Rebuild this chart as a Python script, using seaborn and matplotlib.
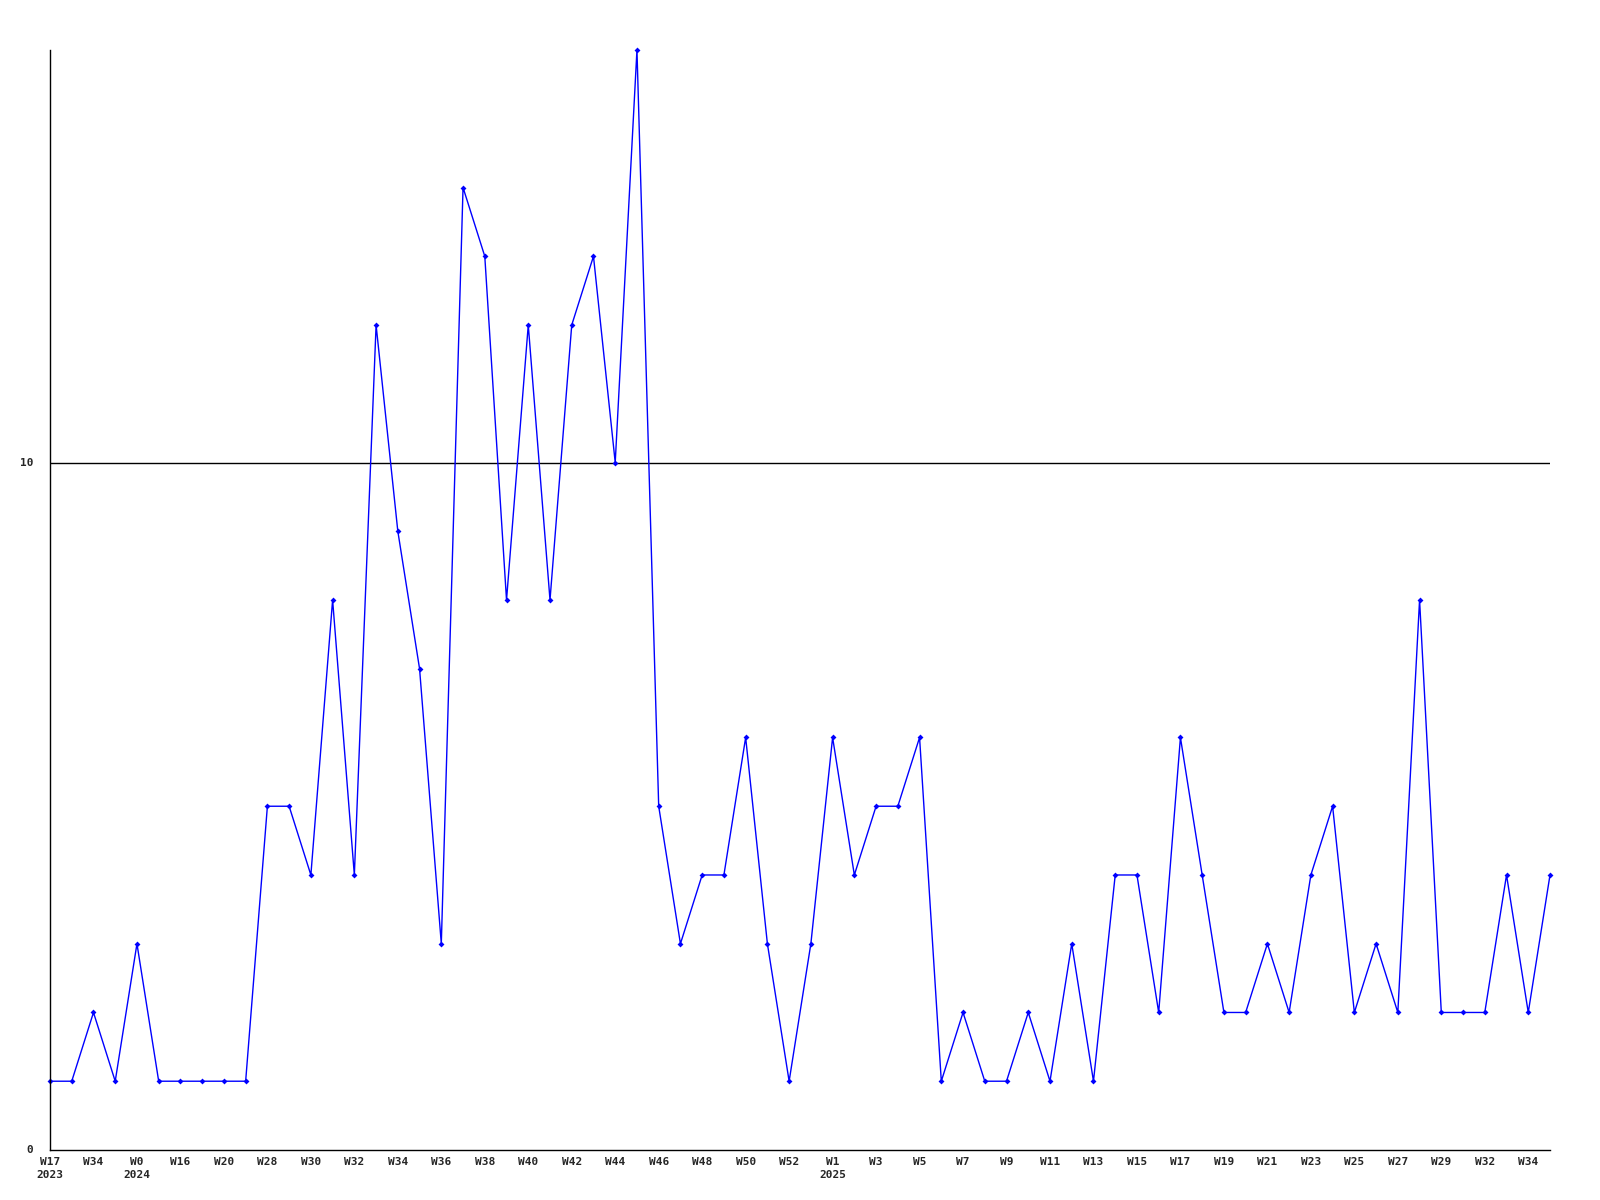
import matplotlib
matplotlib.use("Agg")
import matplotlib.pyplot as plt
import seaborn as sns
import pandas as pd

# ---------- DATA ----------
values = [1, 1, 2, 1, 3, 1, 1, 1, 1, 1,
          5, 5, 4, 8, 4, 12, 9, 7, 3, 14,
          13, 8, 12, 8, 12, 13, 10, 16, 5, 3,
          4, 4, 6, 3, 1, 3, 6, 4, 5, 5,
          6, 1, 2, 1, 1, 2, 1, 3, 1, 4,
          4, 2, 6, 4, 2, 2, 3, 2, 4, 5,
          2, 3, 2, 8, 2, 2, 2, 4, 2, 4]

tick_labels = ["W17\n2023", "W34", "W0\n2024", "W16", "W20", "W28", "W30", "W32",
               "W34", "W36", "W38", "W40", "W42", "W44", "W46", "W48", "W50",
               "W52", "W1\n2025", "W3", "W5", "W7", "W9", "W11", "W13", "W15",
               "W17", "W19", "W21", "W23", "W25", "W27", "W29", "W32", "W34"]

y_ticks = [0, 10]

df = pd.DataFrame({"idx": range(len(values)), "value": values})

# ---------- PLOT ----------
sns.set_style("white")
plt.rcParams["font.family"] = ["DejaVu Sans Mono"]

fig = plt.figure(figsize=(16, 12), dpi=100)
ax = fig.add_axes([0.03125, 0.0417, 0.9375, 0.9166])

sns.lineplot(data=df, x="idx", y="value", ax=ax, color="#0000ff",
             linewidth=1, marker="D", markersize=3, markeredgewidth=0,
             clip_on=False)

ax.axhline(10, color="black", linewidth=1, zorder=0)

ax.set_xlim(0, len(values) - 1)
ax.set_ylim(0, 16)
ax.set_xticks(range(0, 2 * len(tick_labels), 2))
ax.set_xticklabels(tick_labels, fontsize=8, fontweight="bold", linespacing=1.4,
                   va="top")
ax.set_yticks(y_ticks)
ax.set_yticklabels([str(t) for t in y_ticks], fontsize=8, fontweight="bold")
ax.tick_params(axis="x", length=0, pad=5)
ax.tick_params(axis="y", length=0, pad=12)
for lbl in ax.get_yticklabels():
    lbl.set_verticalalignment("center")

ax.set_xlabel("")
ax.set_ylabel("")
for side in ["top", "right"]:
    ax.spines[side].set_visible(False)
for side in ["left", "bottom"]:
    ax.spines[side].set_color("black")
    ax.spines[side].set_linewidth(1)

plt.savefig("out.png", dpi=100)
plt.close()
